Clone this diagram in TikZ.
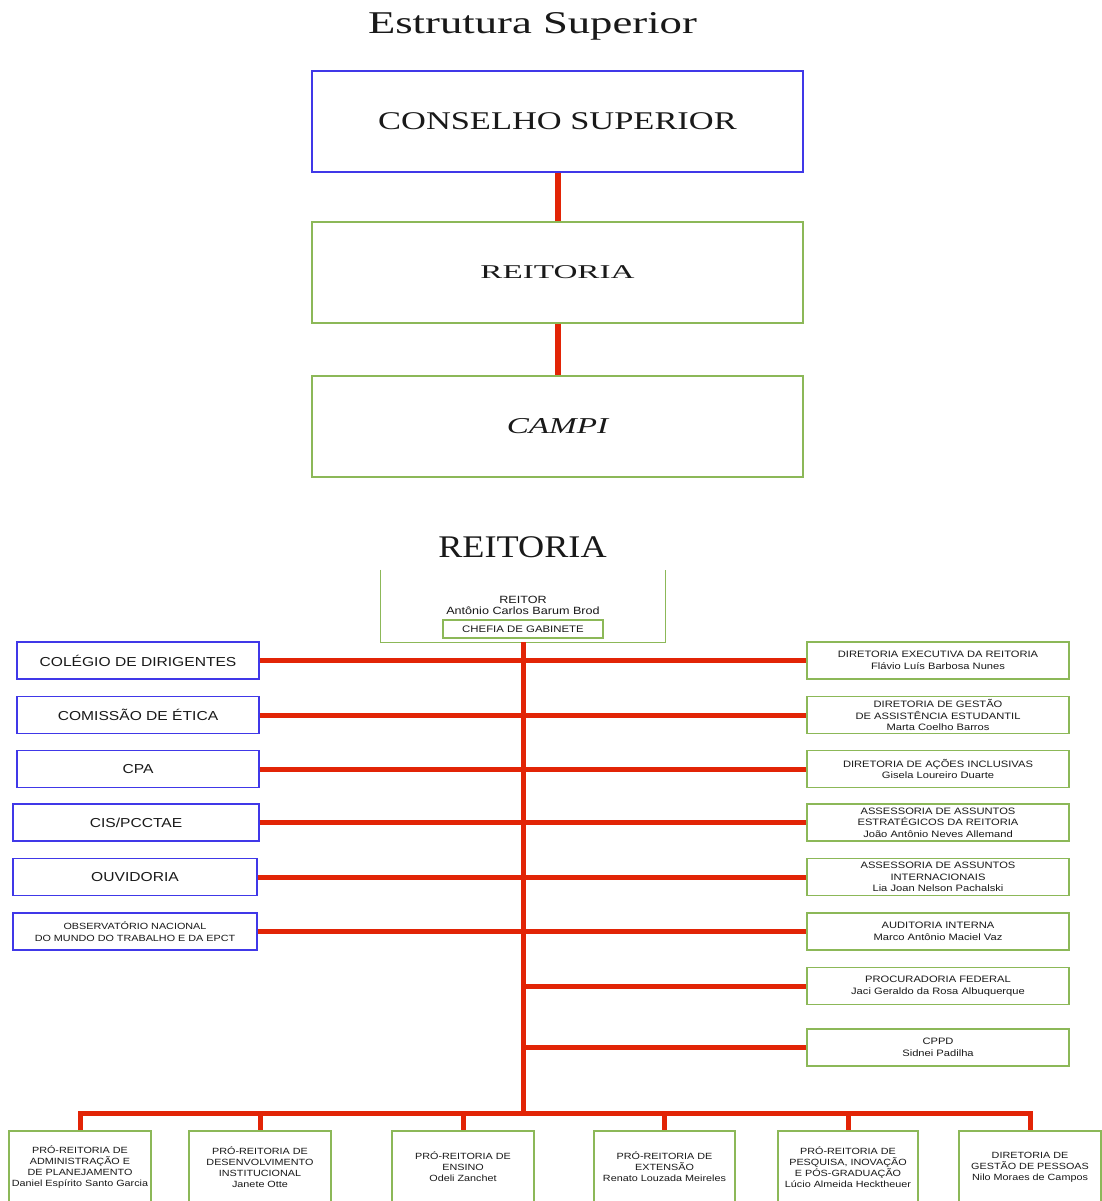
\documentclass[tikz,border=0pt]{standalone}
\usepackage{fontspec}
\usepackage{graphicx}
\setmainfont{Liberation Serif}
\newfontfamily\boxfont[FakeStretch=1.2]{Liberation Sans}
\newfontfamily\ttlfont[FakeStretch=1.41]{Liberation Serif}
\newfontfamily\conselhofont[FakeStretch=1.35]{Liberation Serif}
\newfontfamily\reitfont[FakeStretch=1.7]{Liberation Serif}
\newfontfamily\campifont[FakeStretch=1.46]{Liberation Serif}
\newfontfamily\rtitfont[FakeStretch=1.15]{Liberation Serif}
\definecolor{blu}{RGB}{64,56,232}
\definecolor{grn}{RGB}{140,184,88}
\definecolor{rd}{RGB}{226,36,6}
\definecolor{txtc}{RGB}{25,25,25}
\tikzset{
  basebox/.style={fill=white, line width=1.1pt, inner sep=0pt, align=center, text=txtc},
  blubox/.style={basebox, draw=blu},
  grnbox/.style={basebox, draw=grn},
  bigtxt/.style={font=\boxfont\fontsize{13}{15}\selectfont},
  smtxt/.style={font=\boxfont\fontsize{9.3}{11.5}\selectfont},
  bottxt/.style={font=\boxfont\fontsize{9}{11}\selectfont},
  leftbox/.style={blubox, bigtxt, minimum height=37pt},
  rightbox/.style={grnbox, smtxt, minimum width=262pt, minimum height=37pt},
  botbox/.style={grnbox, bottxt, minimum width=142pt, minimum height=72pt},
  topbox/.style={minimum width=491pt, minimum height=101pt},
  redline/.style={draw=rd, line width=5pt},
  grnline/.style={draw=grn, line width=1.1pt}
}
\begin{document}
\begin{tikzpicture}[x=1pt,y=-1pt]
\useasboundingbox[fill=white] (0,0) rectangle (1102,1201);

% ---------- Estrutura Superior ----------
\node[anchor=base, inner sep=0pt, text=txtc, font=\ttlfont\fontsize{31.7}{36}\selectfont] (t1) at (532.5,34) {Estrutura Superior};
\node[blubox, topbox] (cons) at (557.5,121.5) {\conselhofont\fontsize{25.5}{30}\selectfont CONSELHO SUPERIOR};
\node[grnbox, topbox] (reit) at (557.5,272.5) {\reitfont\fontsize{19.5}{22}\selectfont REITORIA};
\node[grnbox, topbox] (campi) at (557.5,426.5) {\campifont\itshape\fontsize{22.7}{26}\selectfont CAMPI};
\draw[redline, line width=6pt] (cons.south) -- (reit.north);
\draw[redline, line width=6pt] (reit.south) -- (campi.north);

% ---------- Reitoria ----------
\node[anchor=base, inner sep=0pt, text=txtc, font=\rtitfont\fontsize{31.5}{36}\selectfont] (t2) at (522.5,557) {REITORIA};

\node[minimum width=284pt, minimum height=72pt, inner sep=0pt] (rbox) at (523,606) {};
\draw[grnline] (rbox.north west) -- (rbox.south west) -- (rbox.south east) -- (rbox.north east);
\node[inner sep=0pt, align=center, text=txtc, font=\boxfont\fontsize{10.5}{11.5}\selectfont] (rtxt) at (523,605.5) {REITOR\\Antônio Carlos Barum Brod};
\node[grnbox, minimum width=160pt, minimum height=18pt, font=\boxfont\fontsize{9.5}{11}\selectfont] (chefia) at (523,629) {CHEFIA DE GABINETE};

\coordinate (bus) at (523,1113);
\draw[redline] (rbox.south) -- (bus);

% left boxes
\node[leftbox, minimum width=242pt] (l1) at (138,660.5) {COLÉGIO DE DIRIGENTES};
\node[leftbox, minimum width=242pt] (l2) at (138,715) {COMISSÃO DE ÉTICA};
\node[leftbox, minimum width=242pt] (l3) at (138,769) {CPA};
\node[leftbox, minimum width=246pt] (l4) at (136,822.5) {CIS/PCCTAE};
\node[leftbox, minimum width=244pt] (l5) at (135,877) {OUVIDORIA};
\node[leftbox, minimum width=244pt, font=\boxfont\fontsize{9}{11.5}\selectfont] (l6) at (135,931.5) {OBSERVATÓRIO NACIONAL\\DO MUNDO DO TRABALHO E DA EPCT};

% right boxes
\node[rightbox] (r1) at (938,660.5) {DIRETORIA EXECUTIVA DA REITORIA\\Flávio Luís Barbosa Nunes};
\node[rightbox] (r2) at (938,715) {DIRETORIA DE GESTÃO\\DE ASSISTÊNCIA ESTUDANTIL\\Marta Coelho Barros};
\node[rightbox] (r3) at (938,769) {DIRETORIA DE AÇÕES INCLUSIVAS\\Gisela Loureiro Duarte};
\node[rightbox] (r4) at (938,822.5) {ASSESSORIA DE ASSUNTOS\\ESTRATÉGICOS DA REITORIA\\João Antônio Neves Allemand};
\node[rightbox] (r5) at (938,877) {ASSESSORIA DE ASSUNTOS\\INTERNACIONAIS\\Lia Joan Nelson Pachalski};
\node[rightbox] (r6) at (938,931.5) {AUDITORIA INTERNA\\Marco Antônio Maciel Vaz};
\node[rightbox] (r7) at (938,986) {PROCURADORIA FEDERAL\\Jaci Geraldo da Rosa Albuquerque};
\node[rightbox] (r8) at (938,1047.5) {CPPD\\Sidnei Padilha};

\foreach \i in {1,...,6} {
  \draw[redline] (l\i.east) -- (l\i.east -| r\i.west);
}
\draw[redline] (bus |- r7.west) -- (r7.west);
\draw[redline] (bus |- r8.west) -- (r8.west);

% bottom boxes
\node[botbox] (b1) at (80,1167) {PRÓ-REITORIA DE\\ADMINISTRAÇÃO E\\DE PLANEJAMENTO\\Daniel Espírito Santo Garcia};
\node[botbox] (b2) at (260,1167) {PRÓ-REITORIA DE\\DESENVOLVIMENTO\\INSTITUCIONAL\\Janete Otte};
\node[botbox] (b3) at (463,1167) {PRÓ-REITORIA DE\\ENSINO\\Odeli Zanchet};
\node[botbox, minimum width=141pt] (b4) at (664.5,1167) {PRÓ-REITORIA DE\\EXTENSÃO\\Renato Louzada Meireles};
\node[botbox, minimum width=140pt] (b5) at (848,1167) {PRÓ-REITORIA DE\\PESQUISA, INOVAÇÃO\\E PÓS-GRADUAÇÃO\\Lúcio Almeida Hecktheuer};
\node[botbox] (b6) at (1030,1167) {DIRETORIA DE\\GESTÃO DE PESSOAS\\Nilo Moraes de Campos};

\draw[redline] (b1.north) -- (b1.north |- bus) -- (b6.north |- bus) -- (b6.north);
\foreach \b in {b2,b3,b4,b5} {
  \draw[redline] (\b.north |- bus) -- (\b.north);
}
\end{tikzpicture}
\end{document}
